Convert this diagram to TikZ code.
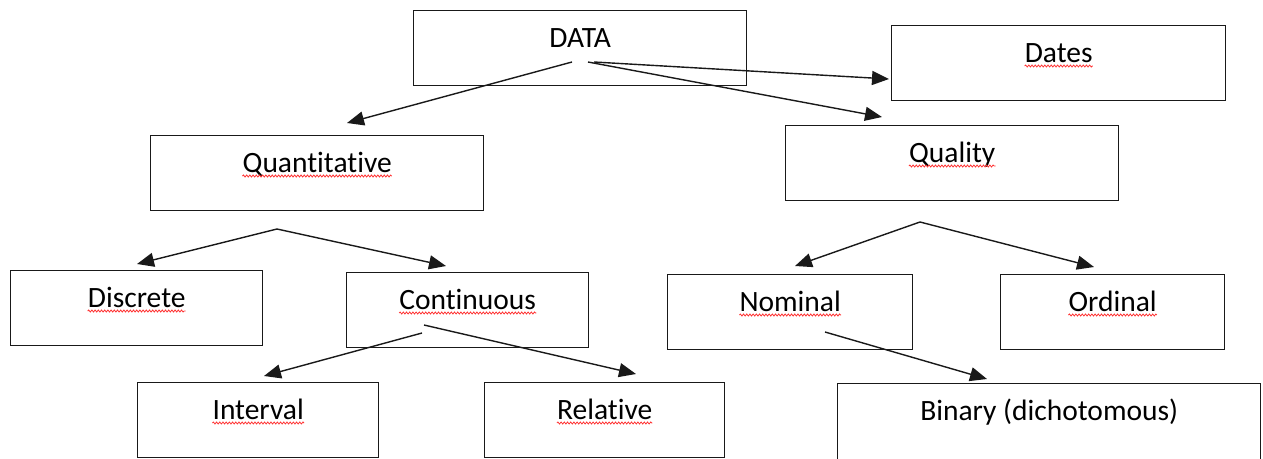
\documentclass[tikz,border=0pt]{standalone}
\usepackage{fontspec}
\setmainfont{Carlito}[Ligatures=NoCommon]
\usetikzlibrary{arrows.meta,decorations.pathmorphing}
\newcommand{\dbox}[6]{%
  \node[bx,minimum width=#4pt,minimum height=#5pt] (b#1) at (#2,#3) {};
  \node[lbl] (t#1) at ([yshift=-37pt]b#1.north) {#6};}
\newcommand{\squig}[1]{\draw[sq] ([yshift=-4pt]t#1.base west) -- ([yshift=-4pt]t#1.base east);}
\begin{document}
\begin{tikzpicture}[x=1pt,y=-1pt,
  bx/.style={draw=black!90,line width=1.4pt,anchor=north west,inner sep=0pt},
  lbl/.style={font=\fontsize{29.5}{34}\selectfont,text=black,inner sep=0pt,anchor=base},
  arr/.style={draw=black!90,line width=1.4pt,-{Triangle[length=17pt,width=14pt]}},
  sq/.style={draw=red!80,line width=0.8pt,decorate,decoration={snake,amplitude=1pt,segment length=3.2pt}}]
\useasboundingbox (0,0) rectangle (1263,458);
\dbox{Data}{413}{10}{333}{75}{DATA}
\dbox{Dates}{891}{25}{334}{75}{Dates}
\dbox{Quan}{150}{135}{333}{75}{Quantitative}
\dbox{Qual}{785}{125}{333}{75}{Quality}
\dbox{Disc}{10}{270}{252}{75}{Discrete}
\dbox{Cont}{346}{272}{242}{75}{Continuous}
\dbox{Nom}{667}{274}{245}{75}{Nominal}
\dbox{Ord}{1000}{274}{224}{75}{Ordinal}
\dbox{Int}{137}{382}{241}{75}{Interval}
\dbox{Rel}{484}{382}{240}{75}{Relative}
\dbox{Bin}{837}{383}{423}{85}{Binary (dichotomous)}
\squig{Dates}\squig{Quan}\squig{Qual}\squig{Disc}\squig{Cont}
\squig{Nom}\squig{Ord}\squig{Int}\squig{Rel}
% free ends of connectors
\coordinate (sDataL) at (572,62);
\coordinate (sDataR) at (588,62);
\coordinate (sDataD) at (594,62);
\coordinate (eQuan) at (347,123);
\coordinate (eQual) at (882,117);
\coordinate (eDates) at (889,79);
\coordinate (sQuan) at (277,229);
\coordinate (eDisc) at (137,264);
\coordinate (eCont) at (446,266);
\coordinate (sContL) at (422,333);
\coordinate (sContR) at (424,325);
\coordinate (eInt) at (264,376);
\coordinate (eRel) at (636,374);
\coordinate (sQual) at (920,222);
\coordinate (eNom) at (795,266);
\coordinate (eOrd) at (1094,267);
\coordinate (sNom) at (825,332);
\coordinate (eBin) at (987,379);
\draw[arr] (sDataL) -- (eQuan);
\draw[arr] (sDataR) -- (eQual);
\draw[arr] (sDataD) -- (eDates);
\draw[arr] (sQuan) -- (eDisc);
\draw[arr] (sQuan) -- (eCont);
\draw[arr] (sContL) -- (eInt);
\draw[arr] (sContR) -- (eRel);
\draw[arr] (sQual) -- (eNom);
\draw[arr] (sQual) -- (eOrd);
\draw[arr] (sNom) -- (eBin);
\end{tikzpicture}
\end{document}
